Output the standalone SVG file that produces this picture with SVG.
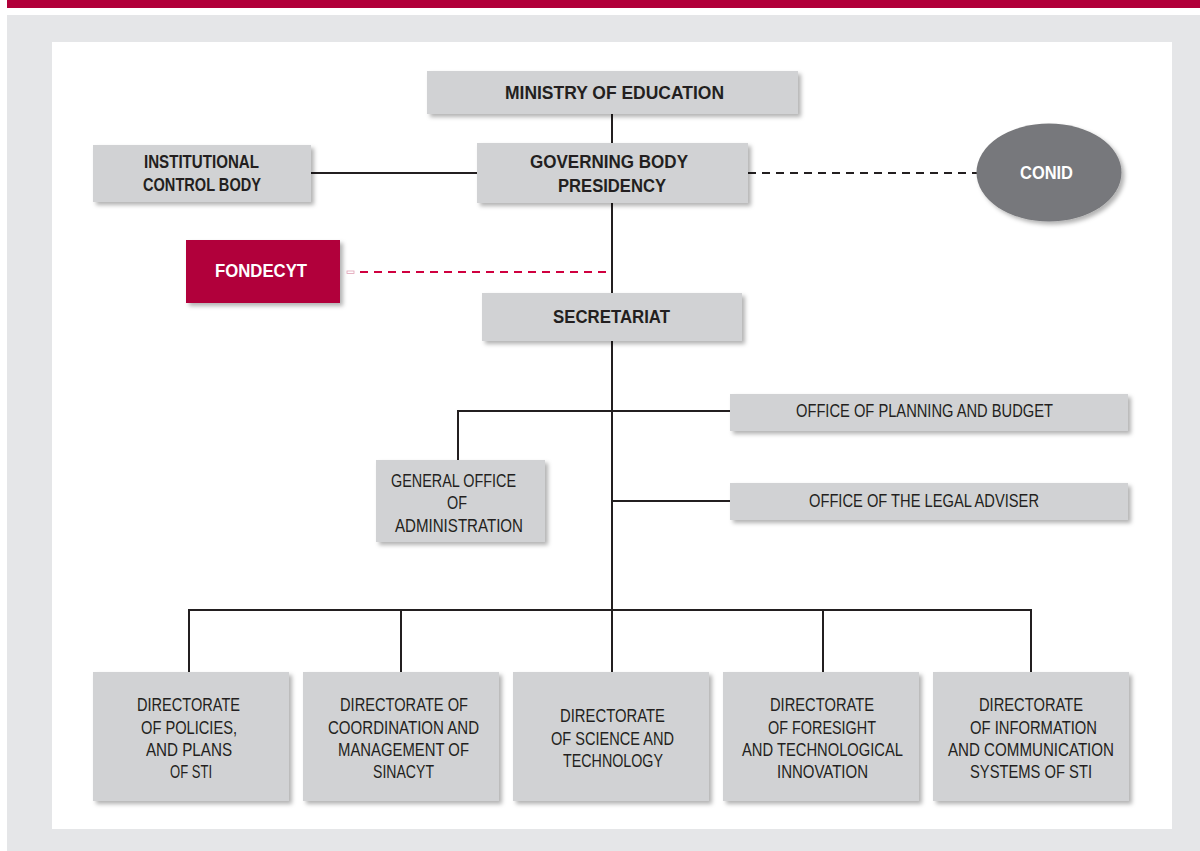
<svg xmlns="http://www.w3.org/2000/svg" width="1200" height="851" viewBox="0 0 1200 851">
<defs>
<filter id="sh" x="-10%" y="-10%" width="125%" height="130%">
<feDropShadow dx="3" dy="3" stdDeviation="2" flood-color="#000" flood-opacity="0.3"/>
</filter>
<style>
.box{fill:#d1d2d4;filter:url(#sh)}
.b{font-family:"Liberation Sans Narrow","Liberation Sans",Arial,sans-serif;font-weight:bold;font-size:18.5px;fill:#231f20;text-anchor:middle}
.r{font-family:"Liberation Sans Narrow","Liberation Sans",Arial,sans-serif;font-size:17.5px;fill:#231f20;text-anchor:middle}
.w{fill:#ffffff}
.ln{stroke:#231f20;stroke-width:2;fill:none}
</style>
</defs>
<rect x="0" y="0" width="1200" height="851" fill="#ffffff"/>
<rect x="7" y="0" width="1193" height="8" fill="#b1003a"/>
<rect x="7" y="15" width="1193" height="836" fill="#e5e6e8"/>
<rect x="52" y="42" width="1120" height="787" fill="#ffffff"/>

<g id="connectors">
<line class="ln" x1="612" y1="114" x2="612" y2="143"/>
<line class="ln" x1="612" y1="203" x2="612" y2="293"/>
<line class="ln" x1="612" y1="341" x2="612" y2="610"/>
<line class="ln" x1="311" y1="173" x2="477" y2="173"/>
<line class="ln" x1="748" y1="173" x2="977" y2="173" stroke-dasharray="8,6"/>
<line x1="360" y1="272" x2="612" y2="272" stroke="#d0003f" stroke-width="2" stroke-dasharray="8,6"/>
<rect x="347" y="271" width="7" height="2.5" fill="#fff" stroke="#e0a0b4" stroke-width="0.8"/>
<polyline class="ln" points="458,460 458,411 730,411"/>
<line class="ln" x1="612" y1="501" x2="730" y2="501"/>
<polyline class="ln" points="189,672 189,610 1031,610 1031,672"/>
<line class="ln" x1="401" y1="610" x2="401" y2="672"/>
<line class="ln" x1="612" y1="610" x2="612" y2="672"/>
<line class="ln" x1="823" y1="610" x2="823" y2="672"/>
</g>

<g id="ministry">
<rect class="box" x="427" y="71" width="371" height="43"/>
<text class="b" x="614.5" y="99" textLength="219" lengthAdjust="spacingAndGlyphs">MINISTRY OF EDUCATION</text>
</g>
<g id="governing">
<rect class="box" x="477" y="143" width="271" height="60"/>
<text class="b" x="609" y="168" textLength="158" lengthAdjust="spacingAndGlyphs">GOVERNING BODY</text>
<text class="b" x="612" y="192" textLength="108" lengthAdjust="spacingAndGlyphs">PRESIDENCY</text>
</g>
<g id="institutional">
<rect class="box" x="93" y="145" width="218" height="57"/>
<text class="b" x="201.5" y="168" textLength="115" lengthAdjust="spacingAndGlyphs">INSTITUTIONAL</text>
<text class="b" x="202" y="191" textLength="118" lengthAdjust="spacingAndGlyphs">CONTROL BODY</text>
</g>
<g id="conid">
<ellipse cx="1049" cy="172.5" rx="72.5" ry="49" fill="#77787b" filter="url(#sh)"/>
<text class="b w" x="1046.5" y="179" textLength="53" lengthAdjust="spacingAndGlyphs">CONID</text>
</g>
<g id="fondecyt">
<rect x="186" y="240" width="154" height="63" fill="#b1003a" filter="url(#sh)"/>
<text class="b w" x="261" y="277" textLength="92" lengthAdjust="spacingAndGlyphs">FONDECYT</text>
</g>
<g id="secretariat">
<rect class="box" x="482" y="293" width="260" height="48"/>
<text class="b" x="611.5" y="323" textLength="117" lengthAdjust="spacingAndGlyphs">SECRETARIAT</text>
</g>
<g id="planning">
<rect class="box" x="730" y="394" width="398" height="37"/>
<text class="r" x="924.5" y="417" textLength="257" lengthAdjust="spacingAndGlyphs">OFFICE OF PLANNING AND BUDGET</text>
</g>
<g id="legal">
<rect class="box" x="730" y="483" width="398" height="37"/>
<text class="r" x="924" y="507" textLength="230" lengthAdjust="spacingAndGlyphs">OFFICE OF THE LEGAL ADVISER</text>
</g>
<g id="admin">
<rect class="box" x="376" y="460" width="169" height="82"/>
<text class="r" x="453.5" y="487" textLength="125" lengthAdjust="spacingAndGlyphs">GENERAL OFFICE</text>
<text class="r" x="457" y="509" textLength="20" lengthAdjust="spacingAndGlyphs">OF</text>
<text class="r" x="459" y="532" textLength="128" lengthAdjust="spacingAndGlyphs">ADMINISTRATION</text>
</g>
<g id="dir1">
<rect class="box" x="93" y="672" width="196" height="129"/>
<text class="r" x="188.5" y="711" textLength="103" lengthAdjust="spacingAndGlyphs">DIRECTORATE</text>
<text class="r" x="189" y="734" textLength="96" lengthAdjust="spacingAndGlyphs">OF POLICIES,</text>
<text class="r" x="189" y="756" textLength="86" lengthAdjust="spacingAndGlyphs">AND PLANS</text>
<text class="r" x="191" y="778" textLength="42" lengthAdjust="spacingAndGlyphs">OF STI</text>
</g>
<g id="dir2">
<rect class="box" x="303" y="672" width="196" height="129"/>
<text class="r" x="404" y="711" textLength="128" lengthAdjust="spacingAndGlyphs">DIRECTORATE OF</text>
<text class="r" x="403.5" y="734" textLength="151" lengthAdjust="spacingAndGlyphs">COORDINATION AND</text>
<text class="r" x="403.5" y="756" textLength="131" lengthAdjust="spacingAndGlyphs">MANAGEMENT OF</text>
<text class="r" x="403.5" y="778" textLength="61" lengthAdjust="spacingAndGlyphs">SINACYT</text>
</g>
<g id="dir3">
<rect class="box" x="513" y="672" width="196" height="129"/>
<text class="r" x="612.5" y="722" textLength="105" lengthAdjust="spacingAndGlyphs">DIRECTORATE</text>
<text class="r" x="612.5" y="745" textLength="123" lengthAdjust="spacingAndGlyphs">OF SCIENCE AND</text>
<text class="r" x="613" y="767" textLength="100" lengthAdjust="spacingAndGlyphs">TECHNOLOGY</text>
</g>
<g id="dir4">
<rect class="box" x="723" y="672" width="196" height="129"/>
<text class="r" x="822" y="711" textLength="104" lengthAdjust="spacingAndGlyphs">DIRECTORATE</text>
<text class="r" x="822" y="734" textLength="108" lengthAdjust="spacingAndGlyphs">OF FORESIGHT</text>
<text class="r" x="822.5" y="756" textLength="161" lengthAdjust="spacingAndGlyphs">AND TECHNOLOGICAL</text>
<text class="r" x="822.5" y="778" textLength="91" lengthAdjust="spacingAndGlyphs">INNOVATION</text>
</g>
<g id="dir5">
<rect class="box" x="933" y="672" width="196" height="129"/>
<text class="r" x="1031" y="711" textLength="104" lengthAdjust="spacingAndGlyphs">DIRECTORATE</text>
<text class="r" x="1033.5" y="734" textLength="127" lengthAdjust="spacingAndGlyphs">OF INFORMATION</text>
<text class="r" x="1031" y="756" textLength="166" lengthAdjust="spacingAndGlyphs">AND COMMUNICATION</text>
<text class="r" x="1031" y="778" textLength="122" lengthAdjust="spacingAndGlyphs">SYSTEMS OF STI</text>
</g>
</svg>
